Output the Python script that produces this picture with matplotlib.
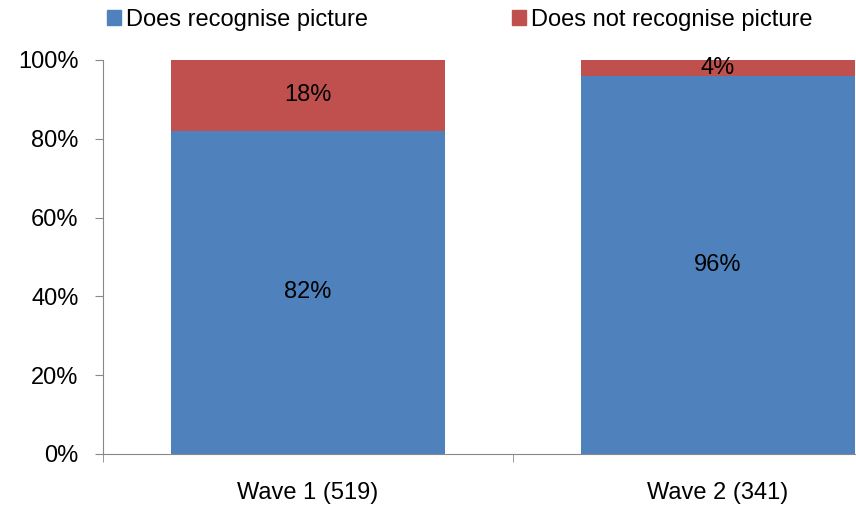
import matplotlib.pyplot as plt
from matplotlib.patches import Patch

# ── Data ──────────────────────────────────────────────────────────────────────
waves        = ["Wave 1 (519)", "Wave 2 (341)"]
recognise    = [82, 96]
no_recognise = [18, 4]
series_names = ["Does recognise picture", "Does not recognise picture"]
colors       = ["#4F81BD", "#C0504D"]

plt.rcParams["font.family"] = ["Liberation Sans", "DejaVu Sans"]
FS = 17

fig = plt.figure(figsize=(8.56, 5.13), dpi=100)
ax = fig.add_axes([103 / 856, 59 / 513, 820 / 856, 394 / 513])

x = range(len(waves))
ax.bar(x, recognise, width=0.67, color=colors[0])
ax.bar(x, no_recognise, width=0.67, bottom=recognise, color=colors[1])

# value labels centred in each segment
for i in x:
    ax.text(i, recognise[i] / 2, f"{recognise[i]}%", ha="center", va="center", fontsize=FS)
    ax.text(i, recognise[i] + no_recognise[i] / 2, f"{no_recognise[i]}%",
            ha="center", va="center", fontsize=FS)

ax.set_xlim(-0.5, 1.5)
ax.set_ylim(0, 100)
ax.set_yticks(range(0, 101, 20))
ax.set_yticklabels([f"{v}%" for v in range(0, 101, 20)], fontsize=FS)
ax.set_xticks(list(x))
ax.set_xticklabels(waves, fontsize=FS)
ax.tick_params(axis="x", length=0, pad=20)
ax.set_xticks([-0.5, 0.5, 1.5], minor=True)
ax.tick_params(axis="x", which="minor", length=6, color="#888888")
ax.tick_params(axis="y", length=5.5, color="#888888", pad=12)

for side in ["top", "right"]:
    ax.spines[side].set_visible(False)
for side in ["left", "bottom"]:
    ax.spines[side].set_color("#888888")

# one legend entry per series, placed side by side above the plot
for name, c, xpos in zip(series_names, colors, [107, 512]):
    fig.legend([Patch(color=c)], [name], loc="center left",
               bbox_to_anchor=(xpos / 856, 1 - 20 / 513), frameon=False,
               fontsize=FS, handlelength=0.6, handleheight=0.6,
               handletextpad=0.2, borderpad=0, borderaxespad=0)

fig.savefig("out.png", dpi=100)
